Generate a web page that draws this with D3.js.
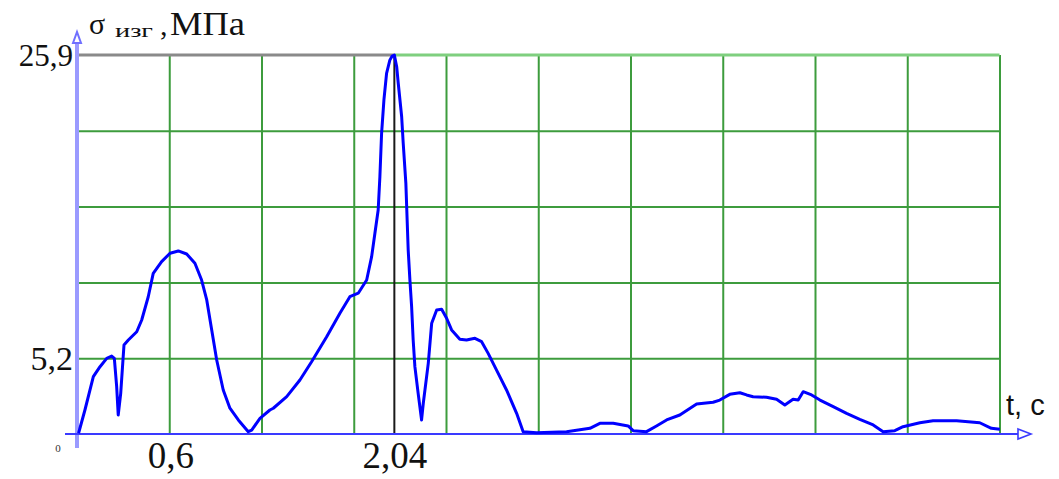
<!DOCTYPE html>
<html><head><meta charset="utf-8">
<script src="https://cdn.jsdelivr.net/npm/d3@7"></script>
<style>html,body{margin:0;padding:0;background:#fff;} svg{display:block;}</style>
</head><body>
<svg id="c" width="1059" height="479"></svg>
<script>
// ---- data ----
const tValues = [0.01,0.051,0.105,0.148,0.191,0.223,0.240,0.255,0.265,0.281,0.294,0.302,0.330,0.384,0.416,0.458,0.490,0.544,0.598,0.651,0.705,0.758,0.801,0.834,0.866,0.898,0.940,0.983,1.037,1.101,1.123,1.176,1.240,1.262,1.348,1.433,1.508,1.605,1.690,1.754,1.808,1.862,1.894,1.915,1.936,1.947,1.958,1.973,1.990,2.011,2.026,2.040,2.055,2.065,2.087,2.097,2.114,2.129,2.140,2.151,2.161,2.172,2.193,2.215,2.226,2.258,2.280,2.312,2.344,2.376,2.408,2.461,2.504,2.558,2.601,2.643,2.697,2.761,2.826,2.868,2.954,3.147,3.297,3.361,3.447,3.543,3.575,3.661,3.725,3.790,3.875,3.983,4.089,4.132,4.196,4.261,4.304,4.346,4.432,4.497,4.550,4.603,4.636,4.668,4.722,4.776,4.861,4.947,5.032,5.118,5.182,5.257,5.310,5.418,5.503,5.654,5.803,5.878,5.932];
const sigmaValues = [0.05,1.64,3.92,4.60,5.17,5.33,5.17,3.23,1.30,2.78,4.83,6.08,6.42,6.99,7.79,9.38,10.98,11.78,12.35,12.51,12.30,11.67,10.52,9.16,7.11,5.06,3.01,1.76,0.96,0.16,0.27,1.07,1.64,1.76,2.55,3.69,4.94,6.65,8.25,9.38,9.62,10.52,12.12,13.72,15.31,17.58,20.55,22.83,24.65,25.55,25.83,25.90,25.10,23.97,21.68,19.87,17.13,12.57,10.52,8.70,6.42,4.60,2.78,0.96,2.10,4.83,7.57,8.47,8.52,7.91,7.11,6.47,6.42,6.54,6.31,5.51,4.37,3.01,1.41,0.16,0.09,0.16,0.39,0.73,0.73,0.55,0.23,0.16,0.55,0.96,1.30,2.05,2.17,2.32,2.71,2.82,2.67,2.55,2.51,2.37,1.98,2.37,2.32,2.89,2.67,2.32,1.87,1.41,1.00,0.62,0.16,0.23,0.50,0.77,0.91,0.91,0.77,0.39,0.32];
const xMarkers = [0.6, 2.04];
const xMarkerLabels = ["0,6", "2,04"];
const yMarkers = [5.2, 25.9];
const yMarkerLabels = ["5,2", "25,9"];
const xMax = 5.93, yMax = 25.9;
const xDivs = 10, yDivs = 5;
const peakT = 2.04;

const svg = d3.select("#c");
const x = d3.scaleLinear().domain([0, xMax]).range([77, 999.5]);
const y = d3.scaleLinear().domain([0, yMax]).range([434, 55]);
const green = "#3d9c3d";

// vertical grid
const vGrid = d3.range(1, xDivs + 1).map(i => i * xMax / xDivs);
svg.append("g").attr("transform", "translate(0,434)")
  .call(d3.axisBottom(x).tickValues(vGrid).tickSize(-(434 - 55)).tickFormat(""))
  .call(g => g.select(".domain").remove())
  .call(g => g.selectAll("line").attr("stroke", green).attr("stroke-width", 2));
// horizontal grid
const hGrid = d3.range(1, yDivs).map(i => i * yMax / yDivs);
svg.append("g").attr("transform", "translate(77,0)")
  .call(d3.axisLeft(y).tickValues(hGrid).tickSize(-(999.5 - 77)).tickFormat(""))
  .call(g => g.select(".domain").remove())
  .call(g => g.selectAll("line").attr("stroke", green).attr("stroke-width", 2));
// top border: gray until peak, green after
svg.append("line").attr("x1", x(peakT)).attr("x2", x(xMax)).attr("y1", y(yMax)).attr("y2", y(yMax))
  .attr("stroke", "#7fcf7f").attr("stroke-width", 3);
svg.append("line").attr("x1", x(0)).attr("x2", x(peakT)).attr("y1", y(yMax)).attr("y2", y(yMax))
  .attr("stroke", "#8a8a8a").attr("stroke-width", 3);
// marker vertical
svg.append("line").attr("x1", x(peakT)).attr("x2", x(peakT)).attr("y1", y(yMax)).attr("y2", y(0))
  .attr("stroke", "#1a1a1a").attr("stroke-width", 2);

// axes lines
svg.append("line").attr("x1", x(0)).attr("x2", x(0)).attr("y1", 42).attr("y2", 448)
  .attr("stroke", "#9a9aff").attr("stroke-width", 4);
svg.append("path").attr("d", `M${x(0)-4},43 L${x(0)},32 L${x(0)+4},43 Z`)
  .attr("fill", "#fff").attr("stroke", "#7070ff").attr("stroke-width", 2);
svg.append("line").attr("x1", 65).attr("x2", 1030).attr("y1", y(0)).attr("y2", y(0))
  .attr("stroke", "#3a3aff").attr("stroke-width", 2);
svg.append("path").attr("d", `M1018,${y(0)-5} L1031,${y(0)} L1018,${y(0)+5} Z`)
  .attr("fill", "#fff").attr("stroke", "#3a3aff").attr("stroke-width", 1.6);

// curve
const data = tValues.map((t, i) => ({t, s: sigmaValues[i]}));
svg.append("path").datum(data)
  .attr("fill", "none").attr("stroke", "#0000ff").attr("stroke-width", 3)
  .attr("stroke-linejoin", "round")
  .attr("d", d3.line().x(d => x(d.t)).y(d => y(d.s)));

// x marker labels
const serif = "'Liberation Serif','Times New Roman',serif";
svg.append("g").attr("transform", "translate(0,434)")
  .call(d3.axisBottom(x).tickValues(xMarkers).tickSize(0).tickPadding(0)
        .tickFormat((d, i) => xMarkerLabels[i]))
  .call(g => g.select(".domain").remove())
  .call(g => g.selectAll("text").attr("y", 34).attr("dy", 0)
        .attr("font-family", serif).attr("font-size", 37).attr("fill", "#111"));
// y marker labels
svg.append("g").attr("transform", "translate(73,0)")
  .call(d3.axisLeft(y).tickValues(yMarkers).tickSize(0).tickPadding(0)
        .tickFormat((d, i) => yMarkerLabels[i]))
  .call(g => g.select(".domain").remove())
  .call(g => g.selectAll("text").attr("dy", "0.34em")
        .attr("font-family", serif).attr("fill", "#111")
        .attr("font-size", (d) => d === 25.9 ? 31 : 34));

// small zero
svg.append("text").attr("x", 58).attr("y", 452).attr("text-anchor", "middle")
  .attr("font-family", serif).attr("font-size", 11).attr("fill", "#333").text("0");

// axis titles
const yt = svg.append("text").attr("font-family", serif).attr("fill", "#111");
yt.append("tspan").attr("x", 89).attr("y", 34).attr("font-size", 30).text("σ");
yt.append("tspan").attr("x", 115).attr("y", 37).attr("font-size", 18)
  .attr("textLength", 38).attr("lengthAdjust", "spacingAndGlyphs").text("изг");
yt.append("tspan").attr("x", 160).attr("y", 35).attr("font-size", 30).text(",");
yt.append("tspan").attr("x", 170).attr("y", 35).attr("font-size", 33)
  .attr("textLength", 75).attr("lengthAdjust", "spacingAndGlyphs").text("МПа");

svg.append("text").attr("x", 1006).attr("y", 415)
  .attr("font-family", "'Liberation Sans',Arial,sans-serif").attr("font-size", 29).attr("fill", "#111")
  .text("t, c");
</script>
</body></html>
